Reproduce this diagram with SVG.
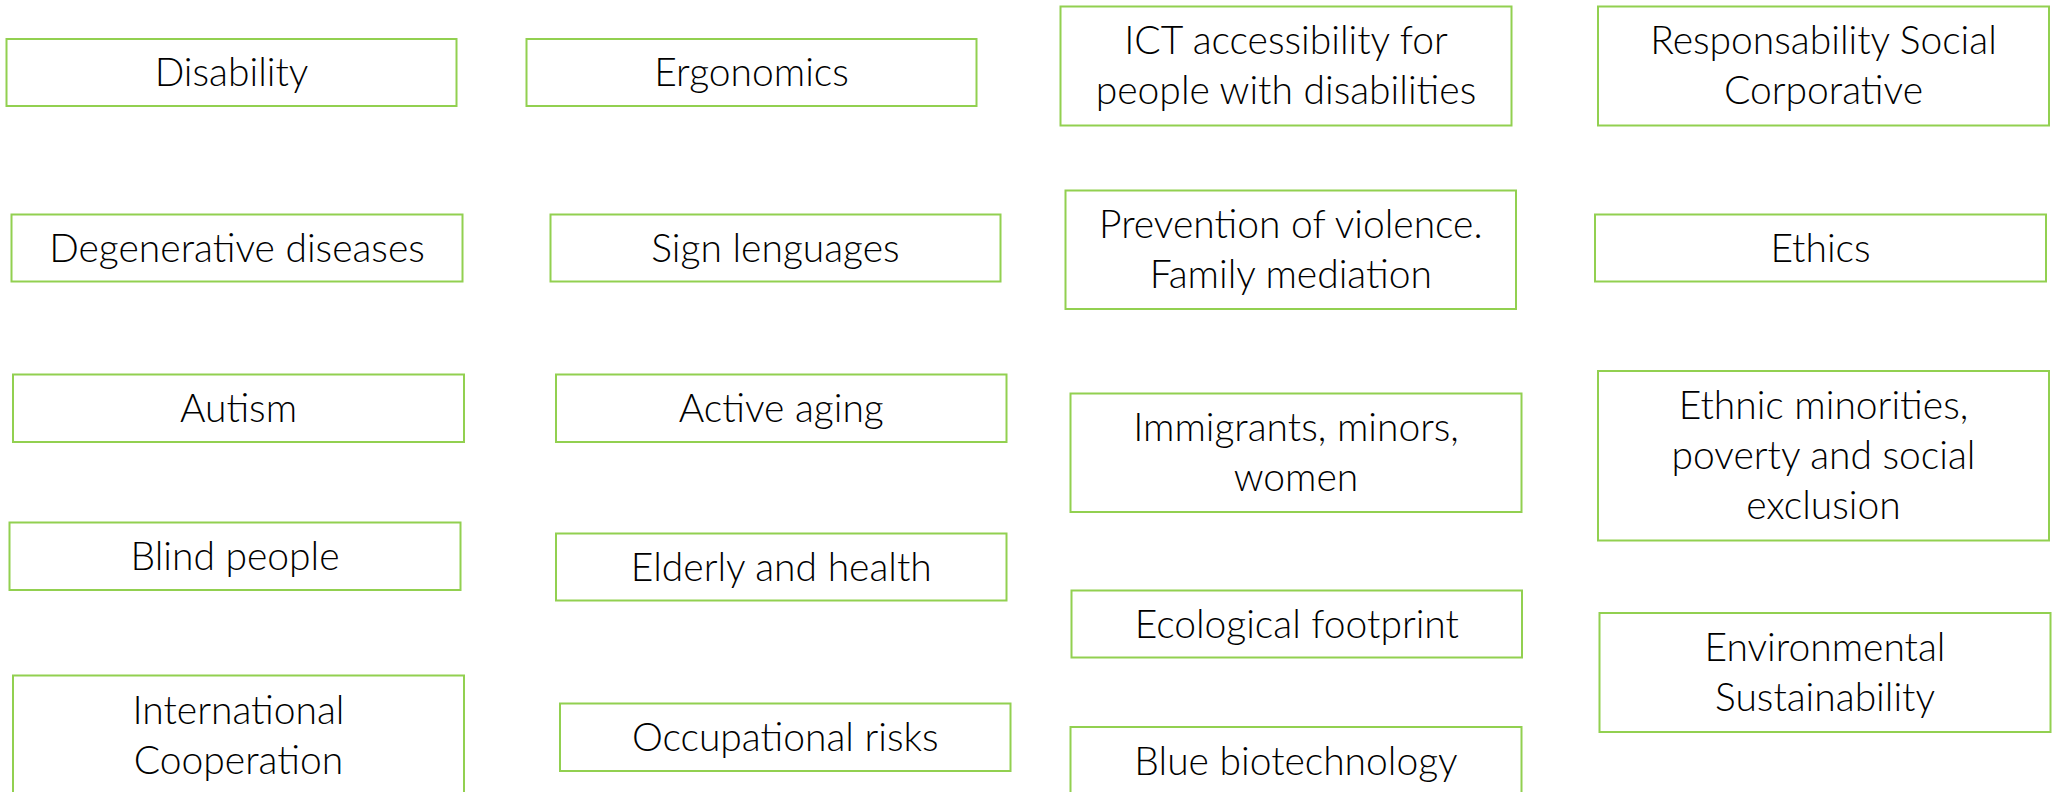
<svg xmlns="http://www.w3.org/2000/svg" width="2053" height="792" viewBox="0 0 2053 792">
<style>
rect.box { fill: #ffffff; stroke: #92D050; stroke-width: 2; }
text.lbl { font-family: Lato, "Open Sans", "Liberation Sans", sans-serif; font-weight: 300; font-size: 39px; fill: #000000; text-anchor: middle; }
</style>
<rect width="2053" height="792" fill="#ffffff"/>
<g id="connectors"></g>
<g id="n-disability"><rect class="box" x="6.5" y="39" width="450" height="67"/><text class="lbl" x="231.5" y="86">Disability</text></g>
<g id="n-degenerative"><rect class="box" x="11.5" y="214.5" width="451" height="67"/><text class="lbl" x="237" y="261.5">Degenerative diseases</text></g>
<g id="n-autism"><rect class="box" x="13" y="374.5" width="451" height="67.5"/><text class="lbl" x="238.5" y="421.8">Autism</text></g>
<g id="n-blind"><rect class="box" x="9.5" y="522.5" width="451" height="67.5"/><text class="lbl" x="235" y="569.8">Blind people</text></g>
<g id="n-international"><rect class="box" x="13" y="675.5" width="451" height="120"/><text class="lbl" x="238.5" y="724">International</text><text class="lbl" x="238.5" y="774">Cooperation</text></g>
<g id="n-ergonomics"><rect class="box" x="526.5" y="39" width="450" height="67"/><text class="lbl" x="751.5" y="86">Ergonomics</text></g>
<g id="n-sign"><rect class="box" x="550.5" y="214.5" width="450" height="67"/><text class="lbl" x="775.5" y="261.5">Sign lenguages</text></g>
<g id="n-active"><rect class="box" x="556" y="374.5" width="450.5" height="67.5"/><text class="lbl" x="781.3" y="421.8">Active aging</text></g>
<g id="n-elderly"><rect class="box" x="556" y="533.5" width="450.5" height="67"/><text class="lbl" x="781.3" y="580.5">Elderly and health</text></g>
<g id="n-occupational"><rect class="box" x="560" y="703.5" width="450.5" height="67.5"/><text class="lbl" x="785.3" y="750.8">Occupational risks</text></g>
<g id="n-ict"><rect class="box" x="1060.5" y="6.5" width="451" height="119"/><text class="lbl" x="1286" y="53.5">ICT accessibility for</text><text class="lbl" x="1286" y="103.5">people with disabilities</text></g>
<g id="n-prevention"><rect class="box" x="1065.5" y="190.5" width="450.5" height="118.5"/><text class="lbl" x="1290.8" y="237.5">Prevention of violence.</text><text class="lbl" x="1290.8" y="287.5">Family mediation</text></g>
<g id="n-immigrants"><rect class="box" x="1070.5" y="393.5" width="451" height="118.5"/><text class="lbl" x="1296" y="440.5">Immigrants, minors,</text><text class="lbl" x="1296" y="490.5">women</text></g>
<g id="n-ecological"><rect class="box" x="1071.5" y="590.5" width="450.5" height="67"/><text class="lbl" x="1296.8" y="637.5">Ecological footprint</text></g>
<g id="n-blue"><rect class="box" x="1070.5" y="727" width="451" height="68"/><text class="lbl" x="1296" y="774.5">Blue biotechnology</text></g>
<g id="n-responsability"><rect class="box" x="1598" y="6.5" width="451" height="119"/><text class="lbl" x="1823.5" y="53.5">Responsability Social</text><text class="lbl" x="1823.5" y="103.5">Corporative</text></g>
<g id="n-ethics"><rect class="box" x="1595" y="214.5" width="451" height="67"/><text class="lbl" x="1820.5" y="261.5">Ethics</text></g>
<g id="n-ethnic"><rect class="box" x="1598" y="371" width="451" height="169.5"/><text class="lbl" x="1823.5" y="419">Ethnic minorities,</text><text class="lbl" x="1823.5" y="469">poverty and social</text><text class="lbl" x="1823.5" y="519">exclusion</text></g>
<g id="n-environmental"><rect class="box" x="1599.5" y="613" width="451" height="119"/><text class="lbl" x="1825" y="660.5">Environmental</text><text class="lbl" x="1825" y="710.5">Sustainability</text></g>
</svg>
